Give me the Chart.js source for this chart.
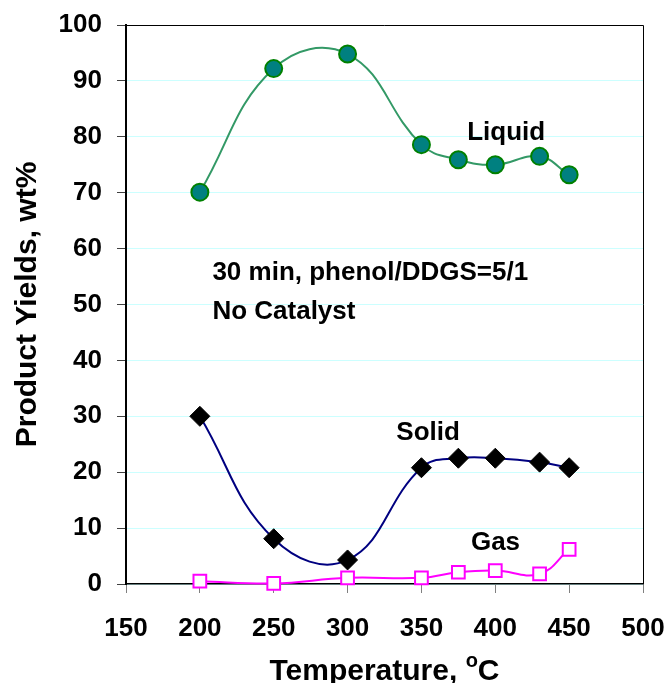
<html>
<head>
<meta charset="UTF-8">
<title>Product Yields vs Temperature</title>
<script src="https://cdn.jsdelivr.net/npm/chart.js"></script>
<style>
  body { margin: 0; background: #fff; }
  canvas { display: block; }
</style>
</head>
<body>
<canvas id="yieldChart" width="667" height="683"></canvas>
<script>
// temperatures (°C) shared by all three series
const temps = [200, 250, 300, 350, 375, 400, 430, 450];
// product yields, wt%
const liquid = [70.1, 92.2, 94.8, 78.6, 75.9, 75.0, 76.5, 73.2];
const solid  = [30.0, 8.1, 4.3, 20.8, 22.5, 22.5, 21.8, 20.8];
const gas    = [0.5, 0.1, 1.1, 1.1, 2.1, 2.4, 1.8, 6.2];
// axis ticks
const xTicks = [150, 200, 250, 300, 350, 400, 450, 500];
const yTicks = [0, 10, 20, 30, 40, 50, 60, 70, 80, 90, 100];

const FONT = 'Liberation Sans, Arial, sans-serif';
const TENSION = 0.42;

function pts(vals) {
    return temps.map((t, i) => ({ x: t, y: vals[i] }));
}

// labels written inside the plot, placed in data units
const notes = [
    { text: 'Liquid', x: 381, y: 79.4 },
    { text: 'Solid', x: 333, y: 25.8 },
    { text: 'Gas', x: 383.5, y: 6.1 },
    { text: '30 min, phenol/DDGS=5/1', x: 208.5, y: 54.3 },
    { text: 'No Catalyst', x: 208.5, y: 47.4 }
];

const decorations = {
    id: 'decorations',
    afterDraw(chart) {
        const ctx = chart.ctx;
        const a = chart.chartArea;
        const xs = chart.scales.x, ys = chart.scales.y;
        ctx.save();
        // top and right frame
        ctx.strokeStyle = '#000';
        ctx.lineWidth = 1;
        ctx.beginPath();
        ctx.moveTo(a.left, a.top + 0.5);
        ctx.lineTo(a.right + 0.5, a.top + 0.5);
        ctx.lineTo(a.right + 0.5, a.bottom);
        ctx.stroke();

        // in-plot labels
        ctx.fillStyle = '#000';
        ctx.font = 'bold 26px ' + FONT;
        ctx.textAlign = 'left';
        ctx.textBaseline = 'alphabetic';
        notes.forEach(n => {
            ctx.fillText(n.text, xs.getPixelForValue(n.x), ys.getPixelForValue(n.y));
        });

        // y axis title
        ctx.save();
        ctx.translate(36, (a.top + a.bottom) / 2);
        ctx.rotate(-Math.PI / 2);
        ctx.textAlign = 'center';
        ctx.font = 'bold 30px ' + FONT;
        ctx.fillText('Product Yields, wt%', 0, 0);
        ctx.restore();

        // x axis title with superscript o
        const big = 'bold 30px ' + FONT, small = 'bold 20px ' + FONT;
        ctx.font = big;
        const w1 = ctx.measureText('Temperature, ').width;
        const w3 = ctx.measureText('C').width;
        ctx.font = small;
        const w2 = ctx.measureText('o').width;
        let x0 = (a.left + a.right) / 2 - (w1 + w2 + w3) / 2;
        const base = 680;
        ctx.font = big;
        ctx.fillText('Temperature, ', x0, base);
        ctx.font = small;
        ctx.fillText('o', x0 + w1, base - 13);
        ctx.font = big;
        ctx.fillText('C', x0 + w1 + w2, base);
        ctx.restore();
    }
};

new Chart(document.getElementById('yieldChart'), {
    type: 'line',
    data: {
        datasets: [{
            label: 'Liquid',
            data: pts(liquid),
            borderColor: '#339966',
            borderWidth: 2,
            backgroundColor: '#008080',
            pointBackgroundColor: '#008080',
            pointBorderColor: '#008000',
            pointBorderWidth: 2,
            pointRadius: 8.5,
            pointStyle: 'circle',
            tension: TENSION,
            clip: false
        }, {
            label: 'Solid',
            data: pts(solid),
            borderColor: '#000080',
            borderWidth: 2,
            pointBackgroundColor: '#000',
            pointBorderColor: '#000',
            pointBorderWidth: 1,
            pointRadius: 10,
            pointStyle: 'rectRot',
            tension: TENSION,
            clip: false
        }, {
            label: 'Gas',
            data: pts(gas),
            borderColor: '#ff00ff',
            borderWidth: 2,
            pointBackgroundColor: '#fff',
            pointBorderColor: '#ff00ff',
            pointBorderWidth: 2,
            pointRadius: 9,
            pointStyle: 'rect',
            tension: TENSION,
            clip: false
        }]
    },
    options: {
        responsive: false,
        animation: false,
        layout: { padding: { top: 25, right: 24, left: 0, bottom: 0 } },
        plugins: {
            legend: { display: false },
            tooltip: { enabled: false }
        },
        scales: {
            x: {
                type: 'linear',
                min: 150,
                max: 500,
                afterBuildTicks: s => { s.ticks = xTicks.map(v => ({ value: v })); },
                afterFit: s => { s.height = 99; s.paddingLeft = 0; s.paddingRight = 0; },
                grid: { drawOnChartArea: false, drawTicks: true, tickLength: 9, tickColor: '#808080' },
                border: { display: true, color: '#000', width: 1.5 },
                ticks: {
                    color: '#000',
                    font: { family: FONT, size: 26, weight: 'bold' },
                    padding: 20,
                    maxRotation: 0
                }
            },
            y: {
                min: 0,
                max: 100,
                afterBuildTicks: s => { s.ticks = yTicks.map(v => ({ value: v })); },
                afterFit: s => { s.width = 126; s.paddingTop = 0; s.paddingBottom = 0; },
                grid: { color: '#ccffff', lineWidth: 1, drawTicks: true, tickLength: 9, tickColor: '#404040' },
                border: { display: true, color: '#000', width: 2 },
                ticks: {
                    color: '#000',
                    font: { family: FONT, size: 26, weight: 'bold' },
                    padding: 15
                }
            }
        }
    },
    plugins: [decorations]
});
</script>
</body>
</html>
